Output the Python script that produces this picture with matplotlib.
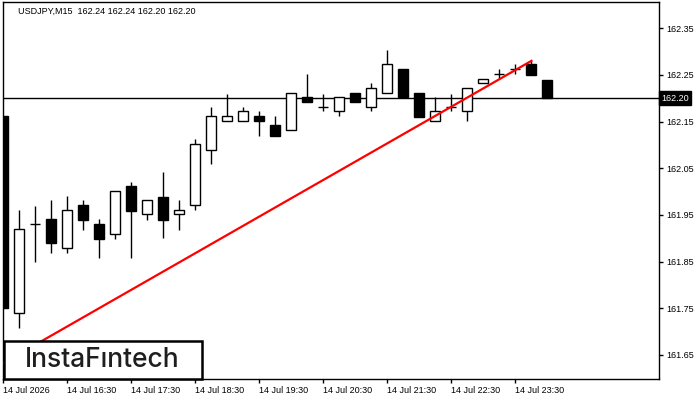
#!/usr/bin/env python3
"""
USDJPY M15 candlestick chart with a red trend line, MT4 style.
"""

import matplotlib
matplotlib.use('Agg')
import matplotlib.pyplot as plt
from matplotlib.patches import Rectangle

# candle data, one entry per 15 minute bar starting 14 Jul 15:30
opens = [162.162, 161.740, 161.930, 161.941, 161.879, 161.971, 161.930, 161.910,
         162.012, 161.951, 161.988, 161.951, 161.971, 162.090, 162.151, 162.151,
         162.162, 162.142, 162.131, 162.202, 162.181, 162.172, 162.211, 162.181,
         162.211, 162.262, 162.211, 162.151, 162.181, 162.172, 162.232, 162.252,
         162.262, 162.273, 162.240]
highs = [162.162, 161.960, 161.970, 161.982, 161.990, 161.982, 161.941, 162.001,
         162.020, 161.982, 162.042, 161.982, 162.112, 162.181, 162.210, 162.181,
         162.172, 162.162, 162.211, 162.252, 162.210, 162.202, 162.211, 162.232,
         162.303, 162.262, 162.211, 162.202, 162.210, 162.221, 162.242, 162.262,
         162.273, 162.280, 162.240]
lows = [161.750, 161.708, 161.850, 161.869, 161.869, 161.918, 161.858, 161.899,
        161.858, 161.940, 161.900, 161.918, 161.960, 162.060, 162.151, 162.151,
        162.120, 162.120, 162.131, 162.192, 162.172, 162.162, 162.192, 162.172,
        162.211, 162.202, 162.160, 162.151, 162.172, 162.151, 162.232, 162.241,
        162.252, 162.250, 162.200]
closes = [161.750, 161.920, 161.930, 161.889, 161.960, 161.940, 161.899, 162.001,
          161.959, 161.982, 161.940, 161.960, 162.101, 162.162, 162.162, 162.172,
          162.151, 162.120, 162.211, 162.192, 162.181, 162.202, 162.192, 162.221,
          162.273, 162.202, 162.160, 162.172, 162.181, 162.221, 162.242, 162.252,
          162.262, 162.250, 162.200]

# trend line end points (bar index, price)
trend_x = [0, 33]
trend_y = [161.633, 162.280]

current_price = 162.20

xtick_pos = [0, 4, 8, 12, 16, 20, 24, 28, 32]
xtick_labels = ['14 Jul 2026', '14 Jul 16:30', '14 Jul 17:30', '14 Jul 18:30',
                '14 Jul 19:30', '14 Jul 20:30', '14 Jul 21:30', '14 Jul 22:30',
                '14 Jul 23:30']
ytick_vals = [161.65, 161.75, 161.85, 161.95, 162.05, 162.15, 162.25, 162.35]

title = 'USDJPY,M15  162.24 162.24 162.20 162.20'


def draw_candles(ax):
    width = 0.625
    for i, (o, h, l, c) in enumerate(zip(opens, highs, lows, closes)):
        top = max(o, c)
        bot = min(o, c)
        # wicks
        if h > top:
            ax.vlines(i, top, h, color='black', linewidth=1, zorder=2)
        if l < bot:
            ax.vlines(i, l, bot, color='black', linewidth=1, zorder=2)
        if abs(o - c) < 1e-6:
            ax.hlines(o, i - width / 2, i + width / 2, color='black', linewidth=1, zorder=3)
            continue
        face = 'white' if c > o else 'black'
        ax.add_patch(Rectangle((i - width / 2, bot), width, top - bot,
                               facecolor=face, edgecolor='black', linewidth=1, zorder=3))


def main():
    plt.rcParams['font.family'] = ['Liberation Sans', 'DejaVu Sans']
    fig = plt.figure(figsize=(7, 4), dpi=100)
    ax = fig.add_axes([3 / 700, 21 / 400, 656 / 700, 377 / 400])

    draw_candles(ax)

    ax.axhline(current_price, color='black', linewidth=1, zorder=1)
    ax.plot(trend_x, trend_y, color='#ff0000', linewidth=1.6, zorder=4)

    ax.set_xlim(-0.03, 40.97)
    ax.set_ylim(161.5986, 162.406)

    ax.yaxis.tick_right()
    ax.set_yticks(ytick_vals)
    ax.set_yticklabels([f'{v:.2f}' for v in ytick_vals])
    ax.set_xticks(xtick_pos)
    ax.set_xticklabels(xtick_labels, ha='left')
    ax.tick_params(axis='both', direction='out', length=3, width=1,
                   labelsize=6.5, colors='black', pad=2)
    for sp in ax.spines.values():
        sp.set_color('black')
        sp.set_linewidth(1)

    # current price marker on the right axis
    ax.text(1.003, current_price, f'{current_price:.2f}', transform=ax.get_yaxis_transform(),
            ha='left', va='center', fontsize=6.5, color='white', zorder=6,
            bbox=dict(boxstyle='square,pad=0.25', facecolor='black', edgecolor='black'),
            clip_on=False)

    ax.text(15 / 656, 0.975, title, transform=ax.transAxes, ha='left', va='center',
            fontsize=6.5, color='black')

    # logo box
    logo = Rectangle((3.5 / 700, 21.5 / 400), 198 / 700, 38 / 400, transform=fig.transFigure,
                     facecolor='white', edgecolor='black', linewidth=1.8, zorder=10)
    fig.patches.append(logo)
    fig.text(102 / 700, 40 / 400, 'InstaF\u0131ntech', ha='center', va='center',
             fontsize=19, fontweight='medium', color='#1e1e1e',
             family=['Inter', 'DejaVu Sans'], zorder=11)

    fig.savefig('out.png', dpi=100)
    plt.close(fig)


if __name__ == '__main__':
    main()
